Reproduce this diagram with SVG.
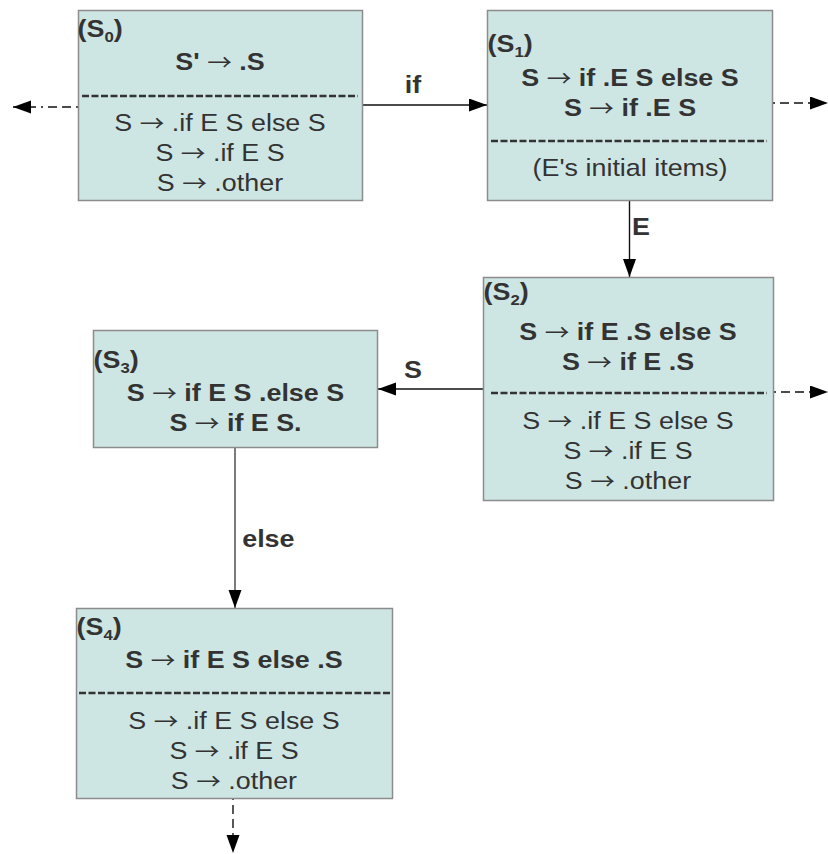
<svg xmlns="http://www.w3.org/2000/svg" width="828" height="854" viewBox="0 0 828 854">
<style>
  text { font-family: "Liberation Sans", Arial, sans-serif; font-size: 24px; fill: #333; transform-box: fill-box; transform-origin: center; transform: scaleX(1.12); }
  .b { font-weight: bold; }
  .c { text-anchor: middle; }
  .a { font-family: "Noto Sans CJK JP", "DejaVu Sans", sans-serif; font-weight: normal; font-size: 22px; }
  .box { fill: #cee6e3; stroke: #8c8c8c; stroke-width: 1.5; }
  .sep { stroke: #333; stroke-width: 2.5; stroke-dasharray: 7 2.5; }
  .edge { stroke: #111; stroke-width: 1.4; fill: none; }
  .dash { stroke: #111; stroke-width: 1.4; fill: none; stroke-dasharray: 2 5 9 5 9 5; }
  .sub { font-size: 15px; }
</style>
<defs>
  <marker id="ah" markerUnits="userSpaceOnUse" markerWidth="19" markerHeight="14" refX="18" refY="6.5" orient="auto">
    <path d="M0,0 L18,6.5 L0,13 z" fill="#000"/>
  </marker>
</defs>

<g id="connectors">
  <line class="edge" x1="362" y1="105" x2="487" y2="105" marker-end="url(#ah)"/>
  <line class="dash" x1="78" y1="107" x2="13" y2="107" marker-end="url(#ah)"/>
  <line class="dash" x1="773" y1="103" x2="828" y2="103" marker-end="url(#ah)"/>
  <line class="edge" x1="629.5" y1="200" x2="629.5" y2="277" marker-end="url(#ah)"/>
  <line class="edge" x1="483" y1="389" x2="378" y2="389" marker-end="url(#ah)"/>
  <line class="dash" x1="774" y1="392" x2="828" y2="392" marker-end="url(#ah)"/>
  <line class="edge" x1="235" y1="447" x2="235" y2="608" marker-end="url(#ah)" style="stroke:#444"/>
  <line class="dash" x1="233" y1="798" x2="233" y2="853" marker-end="url(#ah)"/>
  <text class="b c" x="413" y="93">if</text>
  <text class="b" x="633" y="235">E</text>
  <text class="b c" x="413" y="378">S</text>
  <text class="b" x="245" y="547">else</text>
</g>

<g id="S0">
  <rect class="box" x="78.5" y="10.5" width="284" height="190"/>
  <text class="b" x="80" y="37">(S<tspan class="sub" dy="5">0</tspan><tspan dy="-5">)</tspan></text>
  <text class="b c" x="220" y="70">S' <tspan class="a">→</tspan> .S</text>
  <line class="sep" x1="82" y1="96" x2="358" y2="96"/>
  <text class="c" x="220" y="131">S <tspan class="a">→</tspan> .if E S else S</text>
  <text class="c" x="220" y="161">S <tspan class="a">→</tspan> .if E S</text>
  <text class="c" x="220" y="191">S <tspan class="a">→</tspan> .other</text>
</g>

<g id="S1">
  <rect class="box" x="487.5" y="10.5" width="285" height="190"/>
  <text class="b" x="490" y="52">(S<tspan class="sub" dy="5">1</tspan><tspan dy="-5">)</tspan></text>
  <text class="b c" x="630" y="86">S <tspan class="a">→</tspan> if .E S else S</text>
  <text class="b c" x="630" y="116">S <tspan class="a">→</tspan> if .E S</text>
  <line class="sep" x1="491" y1="141" x2="767" y2="141"/>
  <text class="c" x="630" y="176">(E's initial items)</text>
</g>

<g id="S2">
  <rect class="box" x="483.5" y="277.5" width="290" height="223"/>
  <text class="b" x="486" y="300">(S<tspan class="sub" dy="5">2</tspan><tspan dy="-5">)</tspan></text>
  <text class="b c" x="628" y="340">S <tspan class="a">→</tspan> if E .S else S</text>
  <text class="b c" x="628" y="370">S <tspan class="a">→</tspan> if E .S</text>
  <line class="sep" x1="491" y1="393" x2="767" y2="393"/>
  <text class="c" x="628" y="429">S <tspan class="a">→</tspan> .if E S else S</text>
  <text class="c" x="628" y="459">S <tspan class="a">→</tspan> .if E S</text>
  <text class="c" x="628" y="489">S <tspan class="a">→</tspan> .other</text>
</g>

<g id="S3">
  <rect class="box" x="93.5" y="330.5" width="284" height="117"/>
  <text class="b" x="96" y="368">(S<tspan class="sub" dy="5">3</tspan><tspan dy="-5">)</tspan></text>
  <text class="b c" x="235.5" y="401">S <tspan class="a">→</tspan> if E S .else S</text>
  <text class="b c" x="235.5" y="431">S <tspan class="a">→</tspan> if E S.</text>
</g>

<g id="S4">
  <rect class="box" x="76.5" y="608.5" width="316" height="190"/>
  <text class="b" x="79" y="635">(S<tspan class="sub" dy="5">4</tspan><tspan dy="-5">)</tspan></text>
  <text class="b c" x="234" y="668">S <tspan class="a">→</tspan> if E S else .S</text>
  <line class="sep" x1="79" y1="693" x2="390" y2="693"/>
  <text class="c" x="234" y="729">S <tspan class="a">→</tspan> .if E S else S</text>
  <text class="c" x="234" y="759">S <tspan class="a">→</tspan> .if E S</text>
  <text class="c" x="234" y="789">S <tspan class="a">→</tspan> .other</text>
</g>
</svg>
